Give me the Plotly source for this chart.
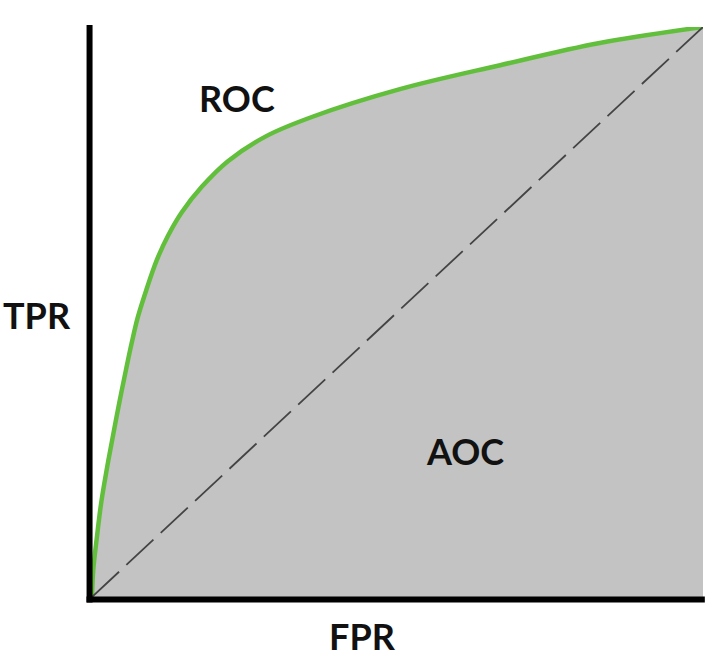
import plotly.graph_objects as go

# ROC curve points (FPR, TPR)
fpr = [0.0, 0.002, 0.008, 0.015, 0.024, 0.034, 0.0445, 0.0555, 0.065, 0.075,
       0.089, 0.106, 0.124, 0.147, 0.180, 0.223, 0.286, 0.362, 0.504, 0.668,
       0.831, 1.0]
tpr = [0.0, 0.047, 0.105, 0.165, 0.223, 0.281, 0.340, 0.398, 0.446, 0.491,
       0.539, 0.591, 0.633, 0.675, 0.720, 0.765, 0.809, 0.843, 0.891, 0.933,
       0.972, 1.0]

# chance diagonal
diag_x = [0.0, 1.0]
diag_y = [0.0, 1.0]

FONT = "Lato"

fig = go.Figure()
fig.add_trace(go.Scatter(
    x=fpr, y=tpr, mode="lines", fill="tozeroy",
    fillcolor="#c3c3c3",
    line=dict(color="#62bf3c", width=4.5, shape="spline", smoothing=1.0),
    hoverinfo="skip", showlegend=False,
))
fig.add_trace(go.Scatter(
    x=diag_x, y=diag_y, mode="lines",
    line=dict(color="#444444", width=1.8, dash="37px,10px"),
    hoverinfo="skip", showlegend=False,
))

lab_font = dict(family=FONT, size=36, color="#111111")
for x, y, t in [(0.237, 0.875, "ROC"), (0.610, 0.256, "AOC"),
                (-0.090, 0.495, "TPR"), (0.4435, -0.068, "FPR")]:
    fig.add_annotation(xref="paper", yref="paper", x=x, y=y, text="<b>" + t + "</b>",
                       xanchor="center", yanchor="middle",
                       showarrow=False, font=lab_font)

# axis lines (black, heavy)
fig.add_shape(type="line", xref="paper", yref="paper", x0=-0.004, x1=-0.004,
              y0=-0.0095, y1=1.0035, line=dict(color="black", width=6))
fig.add_shape(type="line", xref="paper", yref="paper", x0=-0.009, x1=1.003,
              y0=-0.0044, y1=-0.0044, line=dict(color="black", width=6))

fig.update_xaxes(range=[0, 1], showgrid=False, zeroline=False, showticklabels=False,
                 ticks="", showline=False)
fig.update_yaxes(range=[0, 1], showgrid=False, zeroline=False, showticklabels=False,
                 ticks="", showline=False)

fig.update_layout(
    width=720, height=658,
    margin=dict(l=92, r=17, t=27, b=61),
    paper_bgcolor="white", plot_bgcolor="white",
)

fig.write_html("out.html", config={"displayModeBar": False},
               post_script="document.body.style.margin='0';document.body.style.overflow='hidden';")
